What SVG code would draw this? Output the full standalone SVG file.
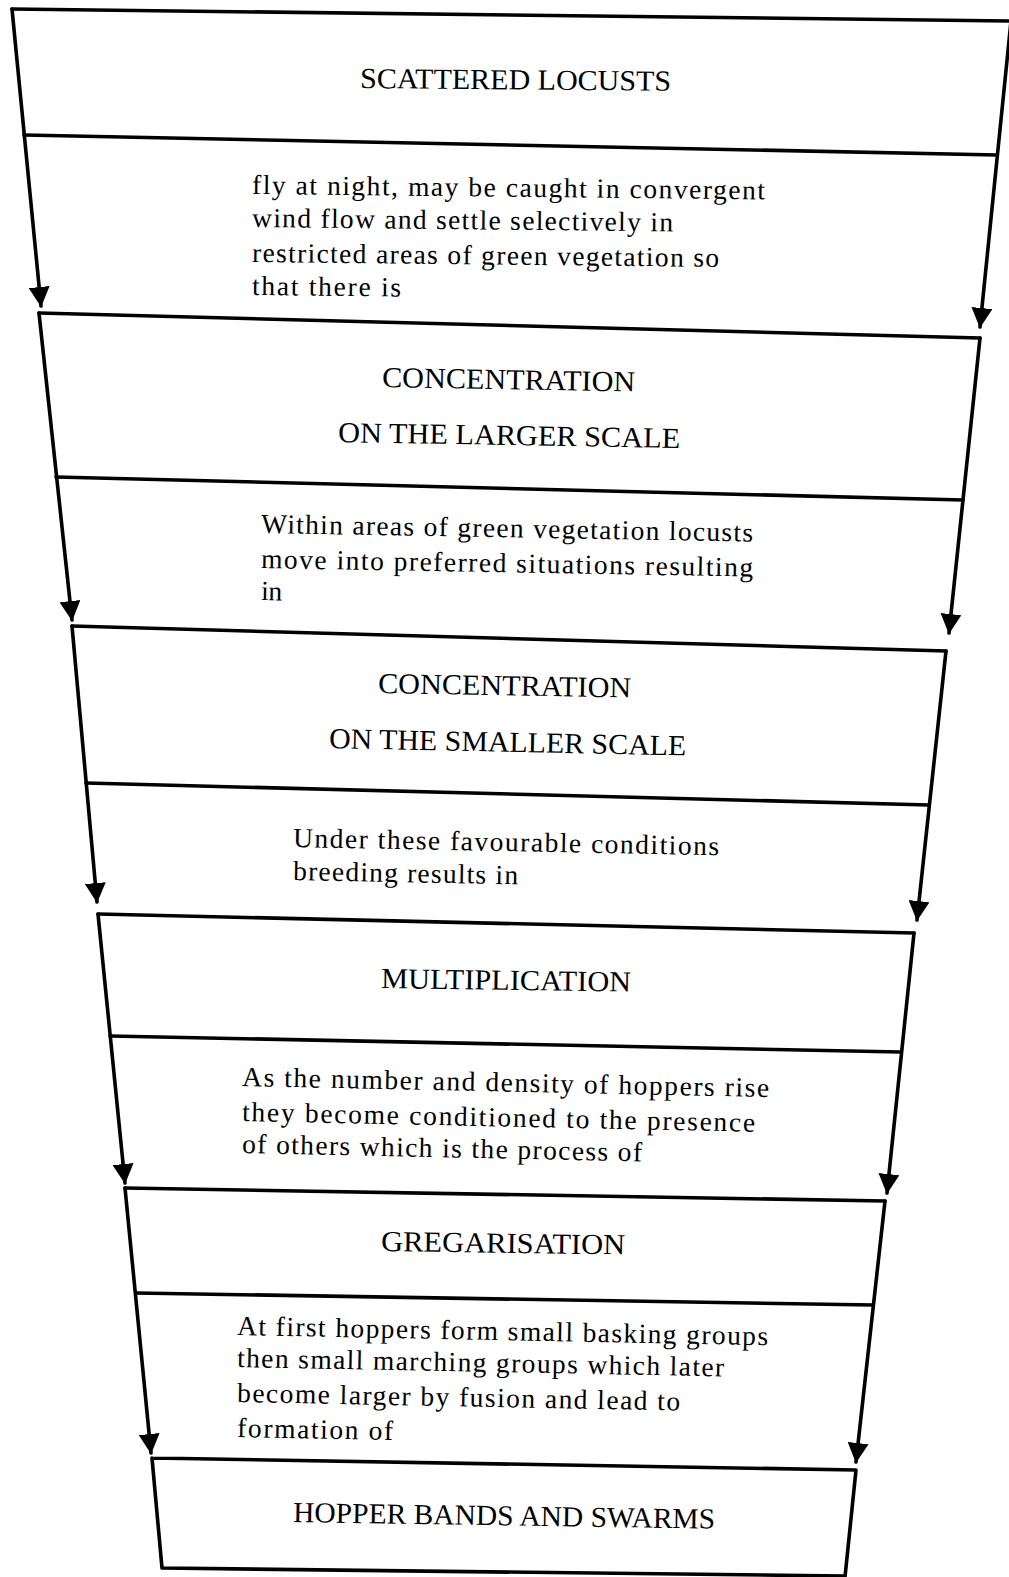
<svg xmlns="http://www.w3.org/2000/svg" width="1009" height="1577" viewBox="0 0 1009 1577">
<style>
.edge{fill:none;stroke:#000;stroke-width:3.6;stroke-linecap:round;stroke-linejoin:round}
.title{font-family:"Liberation Serif","Times New Roman",serif;font-size:29px;fill:#000}
.body{font-family:"Liberation Serif","Times New Roman",serif;font-size:27.5px;fill:#000}
</style>
<defs>
<marker id="ah" viewBox="0 0 20 21" refX="19" refY="10.5" markerWidth="20" markerHeight="21" markerUnits="userSpaceOnUse" orient="auto">
<path d="M0,0 L20,10.5 L0,21 Z" fill="#000"/>
</marker>
</defs>
<rect width="1009" height="1577" fill="#fff"/>

<g id="connectors">
<line class="edge" x1="12" y1="9" x2="41" y2="306" marker-end="url(#ah)"/>
<line class="edge" x1="1011" y1="21" x2="980" y2="327" marker-end="url(#ah)"/>
<line class="edge" x1="39" y1="313" x2="72" y2="620" marker-end="url(#ah)"/>
<line class="edge" x1="980" y1="338" x2="949" y2="633" marker-end="url(#ah)"/>
<line class="edge" x1="72" y1="626" x2="97" y2="902" marker-end="url(#ah)"/>
<line class="edge" x1="946" y1="651" x2="917" y2="920" marker-end="url(#ah)"/>
<line class="edge" x1="98" y1="914" x2="125" y2="1183" marker-end="url(#ah)"/>
<line class="edge" x1="914" y1="933" x2="887" y2="1193" marker-end="url(#ah)"/>
<line class="edge" x1="125" y1="1188" x2="151" y2="1453" marker-end="url(#ah)"/>
<line class="edge" x1="885" y1="1201" x2="856" y2="1462" marker-end="url(#ah)"/>
</g>

<g id="node-scattered-locusts">
<path class="edge" d="M12,9 L1011,21 M24,135 L997,155"/>
<text class="title" x="360" y="88" textLength="311" lengthAdjust="spacingAndGlyphs" transform="rotate(0.5 360 88)">SCATTERED LOCUSTS</text>
<text class="body" x="252" y="194" textLength="513" lengthAdjust="spacing" transform="rotate(0.6 252 194)">fly at night, may be caught in convergent</text>
<text class="body" x="252" y="227" textLength="421" lengthAdjust="spacing" transform="rotate(0.6 252 227)">wind flow and settle selectively in</text>
<text class="body" x="252" y="262" textLength="467" lengthAdjust="spacing" transform="rotate(0.6 252 262)">restricted areas of green vegetation so</text>
<text class="body" x="252" y="295" textLength="149" lengthAdjust="spacing" transform="rotate(0.6 252 295)">that there is</text>
</g>

<g id="node-concentration-larger">
<path class="edge" d="M39,313 L980,338 M56,477 L963,500"/>
<text class="title" x="382" y="387" textLength="253" lengthAdjust="spacingAndGlyphs" transform="rotate(1 382 387)">CONCENTRATION</text>
<text class="title" x="338" y="442" textLength="342" lengthAdjust="spacingAndGlyphs" transform="rotate(1 338 442)">ON THE LARGER SCALE</text>
<text class="body" x="261" y="533" textLength="492" lengthAdjust="spacing" transform="rotate(1 261 533)">Within areas of green vegetation locusts</text>
<text class="body" x="261" y="568" textLength="492" lengthAdjust="spacing" transform="rotate(1 261 568)">move into preferred situations resulting</text>
<text class="body" x="261" y="600" textLength="21" lengthAdjust="spacing" transform="rotate(1 261 600)">in</text>
</g>

<g id="node-concentration-smaller">
<path class="edge" d="M72,626 L946,651 M86,783 L929,805"/>
<text class="title" x="378" y="693" textLength="253" lengthAdjust="spacingAndGlyphs" transform="rotate(1 378 693)">CONCENTRATION</text>
<text class="title" x="329" y="748" textLength="357" lengthAdjust="spacingAndGlyphs" transform="rotate(1.2 329 748)">ON THE SMALLER SCALE</text>
<text class="body" x="293" y="847" textLength="426" lengthAdjust="spacing" transform="rotate(1.1 293 847)">Under these favourable conditions</text>
<text class="body" x="293" y="880" textLength="225" lengthAdjust="spacing" transform="rotate(1.1 293 880)">breeding results in</text>
</g>

<g id="node-multiplication">
<path class="edge" d="M98,914 L914,933 M110,1036 L901,1052"/>
<text class="title" x="381" y="988" textLength="250" lengthAdjust="spacingAndGlyphs" transform="rotate(0.8 381 988)">MULTIPLICATION</text>
<text class="body" x="242" y="1086" textLength="527" lengthAdjust="spacing" transform="rotate(1.2 242 1086)">As the number and density of hoppers rise</text>
<text class="body" x="242" y="1121" textLength="513" lengthAdjust="spacing" transform="rotate(1.2 242 1121)">they become conditioned to the presence</text>
<text class="body" x="242" y="1153" textLength="400" lengthAdjust="spacing" transform="rotate(1.2 242 1153)">of others which is the process of</text>
</g>

<g id="node-gregarisation">
<path class="edge" d="M125,1188 L885,1201 M136,1293 L873,1305"/>
<text class="title" x="381" y="1251" textLength="244" lengthAdjust="spacingAndGlyphs" transform="rotate(0.8 381 1251)">GREGARISATION</text>
<text class="body" x="237" y="1335" textLength="531" lengthAdjust="spacing" transform="rotate(1.1 237 1335)">At first hoppers form small basking groups</text>
<text class="body" x="237" y="1367" textLength="487" lengthAdjust="spacing" transform="rotate(1.1 237 1367)">then small marching groups which later</text>
<text class="body" x="237" y="1402" textLength="443" lengthAdjust="spacing" transform="rotate(1.1 237 1402)">become larger by fusion and lead to</text>
<text class="body" x="237" y="1437" textLength="156" lengthAdjust="spacing" transform="rotate(1.1 237 1437)">formation of</text>
</g>

<g id="node-hopper-bands-and-swarms">
<path class="edge" d="M152,1458 L856,1470 L845,1577 M152,1458 L162,1568 L845,1576"/>
<text class="title" x="293" y="1522" textLength="422" lengthAdjust="spacingAndGlyphs" transform="rotate(0.9 293 1522)">HOPPER BANDS AND SWARMS</text>
</g>
</svg>
